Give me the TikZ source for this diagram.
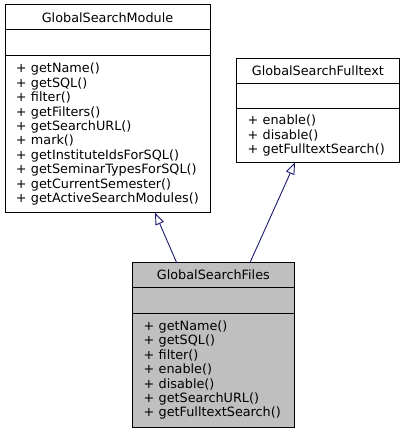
\documentclass[tikz,border=0pt]{standalone}
\usepackage{fontspec}
\setmainfont{DejaVu Sans}
\usetikzlibrary{positioning, arrows.meta}

\definecolor{inheritblue}{HTML}{191970}

\tikzset{
    classpart/.style={draw, line width=1pt, inner sep=0pt, outer sep=0pt,
        font=\fontsize{12.8}{14.4}\selectfont},
    classname/.style={classpart, minimum height=25pt},
    classattr/.style={classpart, minimum height=25.7pt},
    classops/.style={classpart, align=left, inner xsep=11pt},
    inherit/.style={inheritblue, line width=0.9pt,
        -{Triangle[open, length=12pt, width=9pt, fill=white]}},
}

\begin{document}
\begin{tikzpicture}[x=1pt, y=-1pt]
    \useasboundingbox (0,0) rectangle (405,433);

    % GlobalSearchModule
    \node[classname, minimum width=205pt, anchor=north west] (modname) at (5,5) {GlobalSearchModule};
    \node[classattr, minimum width=205pt, below=0pt of modname] (modattr) {};
    \node[classops, text width=183pt, minimum height=157pt, below=0pt of modattr] (modops)
        {+ getName()\\+ getSQL()\\+ filter()\\+ getFilters()\\+ getSearchURL()\\+ mark()\\%
         + getInstituteIdsForSQL()\\+ getSeminarTypesForSQL()\\+ getCurrentSemester()\\%
         + getActiveSearchModules()};

    % GlobalSearchFulltext
    \node[classname, minimum width=162.3pt, anchor=north west] (ftname) at (236.7,58.3) {GlobalSearchFulltext};
    \node[classattr, minimum width=162.3pt, below=0pt of ftname] (ftattr) {};
    \node[classops, text width=140.3pt, minimum height=53.4pt, below=0pt of ftattr] (ftops)
        {+ enable()\\+ disable()\\+ getFulltextSearch()};

    % GlobalSearchFiles
    \node[classname, fill=black!25, minimum width=161.3pt, anchor=north west] (filesname) at (132.7,262.7) {GlobalSearchFiles};
    \node[classattr, fill=black!25, minimum width=161.3pt, below=0pt of filesname] (filesattr) {};
    \node[classops, fill=black!25, text width=139.3pt, minimum height=113.7pt, below=0pt of filesattr] (filesops)
        {+ getName()\\+ getSQL()\\+ filter()\\+ enable()\\+ disable()\\+ getSearchURL()\\%
         + getFulltextSearch()};

    \draw[inherit] ([xshift=-36.7pt]filesname.north) -- ([xshift=47.5pt]modops.south);
    \draw[inherit] ([xshift=36.6pt]filesname.north) -- ([xshift=-22.8pt]ftops.south);
\end{tikzpicture}
\end{document}
